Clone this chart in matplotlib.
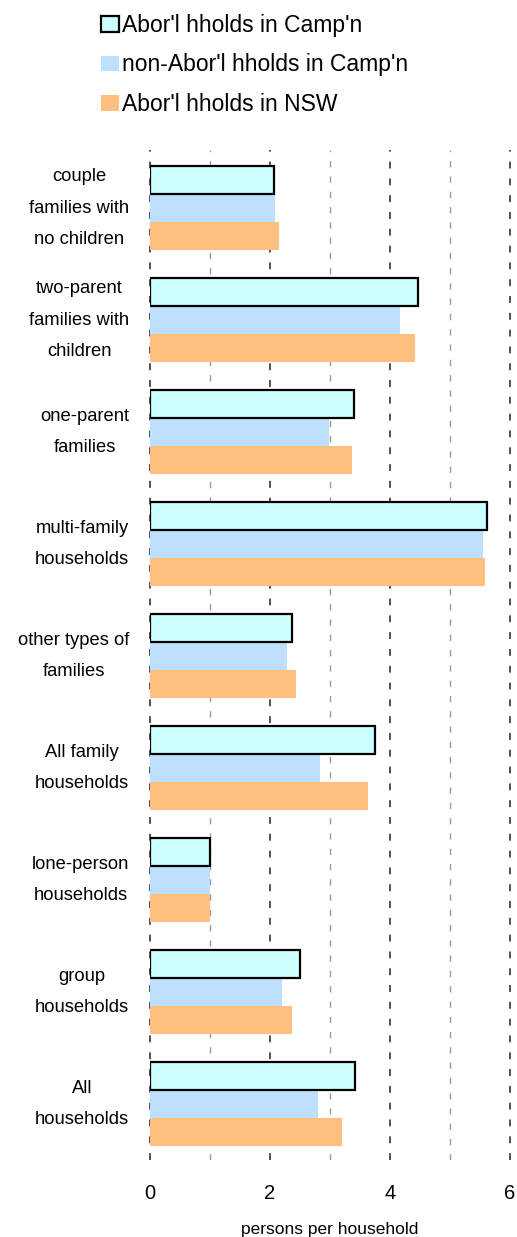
import matplotlib.pyplot as plt
import numpy as np

plt.rcParams['font.family'] = ['Liberation Sans', 'DejaVu Sans']

categories = [
    'couple\nfamilies with\nno children',
    'two-parent\nfamilies with\nchildren',
    'one-parent\nfamilies',
    'multi-family\nhouseholds',
    'other types of\nfamilies',
    'All family\nhouseholds',
    'lone-person\nhouseholds',
    'group\nhouseholds',
    'All\nhouseholds',
]
abor_campn = [2.07, 4.46, 3.40, 5.62, 2.37, 3.75, 1.0, 2.50, 3.42]
non_abor_campn = [2.08, 4.17, 2.98, 5.55, 2.29, 2.83, 1.0, 2.20, 2.80]
abor_nsw = [2.15, 4.42, 3.37, 5.59, 2.44, 3.63, 1.0, 2.37, 3.20]

series_names = ["Abor'l hholds in Camp'n", "non-Abor'l hholds in Camp'n", "Abor'l hholds in NSW"]
x_ticks = [0, 2, 4, 6]

fig = plt.figure(figsize=(5.17, 12.37), dpi=100)
ax = fig.add_axes([150 / 517, 77 / 1237, 360 / 517, 1010 / 1237])

y = np.arange(len(categories))
h = 0.25
b2 = ax.barh(y, non_abor_campn, height=h, color='#BFDFFF', label=series_names[1], zorder=2)
b3 = ax.barh(y + h, abor_nsw, height=h, color='#FFBF7F', label=series_names[2], zorder=2)
b1 = ax.barh(y - h, abor_campn, height=h, color='#CCFFFF', edgecolor='black',
             linewidth=1.6, label=series_names[0], zorder=3)

ax.set_xlim(0, 6)
ax.set_ylim(8.5, -0.518)
ax.set_xticks(x_ticks)
ax.set_xticks([1, 3, 5], minor=True)
ax.set_yticks(y)
ax.set_yticklabels(categories, fontsize=13.2, linespacing=2.1)
for t in ax.get_yticklabels():
    t.set_multialignment('center')
    t.set_verticalalignment('center')

ax.tick_params(axis='both', which='both', length=0)
ax.tick_params(axis='x', labelsize=14.5, pad=17)
ax.tick_params(axis='y', pad=15)

ax.grid(axis='x', which='major', color='#222222', linestyle=(0, (4.5, 6.5)), linewidth=1.1, zorder=0)
ax.grid(axis='x', which='minor', color='#999999', linestyle=(0, (4.5, 6.5)), linewidth=1.0, zorder=0)
ax.set_axisbelow(True)
for gl in ax.get_xgridlines():
    gl.set_clip_on(False)

for s in ax.spines.values():
    s.set_visible(False)

ax.set_xlabel('persons per household', fontsize=12.5, labelpad=14)

fig.legend(handles=[b1, b2, b3], labels=series_names, loc='upper left',
           bbox_to_anchor=(101 / 517, 1 - 14 / 1237), frameon=False,
           fontsize=16.5, handlelength=0.78, handleheight=0.65,
           handletextpad=0.15, labelspacing=0.72, borderpad=0, borderaxespad=0)

fig.savefig('out.png', dpi=100)
